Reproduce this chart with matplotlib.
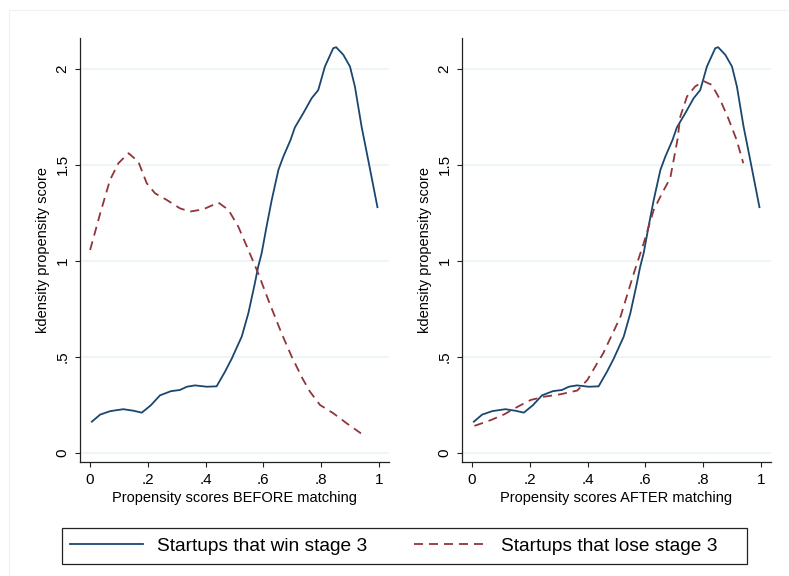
import matplotlib
matplotlib.use("Agg")
import matplotlib.pyplot as plt
from matplotlib.patches import Rectangle
from matplotlib.lines import Line2D

plt.rcParams['font.family'] = ['Liberation Sans', 'DejaVu Sans']

# ----------------------------------------------------------------------
# kernel density of propensity scores
win_x = [0.006, 0.035, 0.070, 0.115, 0.150, 0.179, 0.210, 0.242, 0.280, 0.311,
         0.335, 0.363, 0.404, 0.438, 0.467, 0.490, 0.525, 0.548, 0.570, 0.582,
         0.594, 0.611, 0.629, 0.652, 0.669, 0.694, 0.709, 0.738, 0.767, 0.790,
         0.813, 0.842, 0.852, 0.877, 0.900, 0.917, 0.940, 0.963, 0.995]
win_y = [0.163, 0.200, 0.218, 0.228, 0.220, 0.210, 0.248, 0.300, 0.322, 0.328,
         0.345, 0.352, 0.345, 0.347, 0.423, 0.490, 0.606, 0.728, 0.880, 0.970,
         1.040, 1.179, 1.318, 1.474, 1.543, 1.630, 1.695, 1.769, 1.847, 1.890,
         2.012, 2.108, 2.113, 2.073, 2.012, 1.908, 1.700, 1.526, 1.280]

lose_before_x = [0.000, 0.035, 0.069, 0.098, 0.133, 0.167, 0.196, 0.225, 0.265,
                 0.311, 0.346, 0.392, 0.444, 0.479, 0.513, 0.548, 0.582, 0.617,
                 0.663, 0.698, 0.735, 0.761, 0.796, 0.842, 0.888, 0.938]
lose_before_y = [1.057, 1.248, 1.422, 1.509, 1.561, 1.517, 1.405, 1.352, 1.318,
                 1.274, 1.257, 1.269, 1.304, 1.266, 1.179, 1.057, 0.936, 0.797,
                 0.623, 0.502, 0.389, 0.320, 0.250, 0.207, 0.155, 0.102]

lose_after_x = [0.008, 0.066, 0.111, 0.158, 0.203, 0.249, 0.307, 0.364, 0.399,
                0.433, 0.454, 0.514, 0.560, 0.594, 0.629, 0.658, 0.686, 0.698,
                0.711, 0.721, 0.744, 0.772, 0.801, 0.830, 0.859, 0.887, 0.916,
                0.939]
lose_after_y = [0.141, 0.172, 0.201, 0.241, 0.276, 0.293, 0.306, 0.325, 0.380,
                0.467, 0.519, 0.710, 0.936, 1.092, 1.266, 1.353, 1.431, 1.526,
                1.630, 1.752, 1.856, 1.908, 1.937, 1.917, 1.839, 1.743, 1.630,
                1.509]

x_ticks = [0, 0.2, 0.4, 0.6, 0.8, 1]
x_ticklabels = ["0", ".2", ".4", ".6", ".8", "1"]
y_ticks = [0, 0.5, 1, 1.5, 2]
y_ticklabels = ["0", ".5", "1", "1.5", "2"]

labels = ["Startups that win stage 3", "Startups that lose stage 3"]
x_titles = ["Propensity scores BEFORE matching", "Propensity scores AFTER matching"]
y_title = "kdensity propensity score"
# ----------------------------------------------------------------------

NAVY = "#1a476f"
MAROON = "#90353b"
GRID = "#eaf2f3"
W, H = 789, 576


def style_axis(ax, xtitle):
    ax.set_xlim(-0.035, 1.035)
    ax.set_ylim(-0.047, 2.161)
    ax.set_xticks(x_ticks)
    ax.set_xticklabels(x_ticklabels)
    ax.set_yticks(y_ticks)
    ax.set_yticklabels(y_ticklabels, rotation=90, va="center")
    ax.yaxis.grid(True, color=GRID, lw=1.1)
    ax.set_axisbelow(True)
    for side in ["top", "right"]:
        ax.spines[side].set_visible(False)
    for side in ["left", "bottom"]:
        ax.spines[side].set_color("#222222")
        ax.spines[side].set_linewidth(0.9)
    ax.tick_params(direction="out", length=3.6, width=0.8, color="#222222",
                   labelsize=11, pad=4)
    ax.set_xlabel(xtitle, fontsize=10.5, labelpad=3)
    ax.set_ylabel(y_title, fontsize=10.5, labelpad=4)


fig = plt.figure(figsize=(W / 100, H / 100), dpi=100)
fig.patch.set_facecolor("white")

# faint outer graph-region border (only top/left edges fall inside the image)
fig.add_artist(Rectangle((9 / W, 1 - 600 / H), 800 / W, 590 / H,
                         transform=fig.transFigure, fill=False,
                         edgecolor="#eef1f2", lw=0.8))

ax1 = fig.add_axes([80 / W, 114 / H, 309 / W, 424 / H])
ax2 = fig.add_axes([462 / W, 114 / H, 309 / W, 424 / H])

for ax, lx, ly, title in [(ax1, lose_before_x, lose_before_y, x_titles[0]),
                          (ax2, lose_after_x, lose_after_y, x_titles[1])]:
    ax.plot(win_x, win_y, color=NAVY, lw=1.3, zorder=3)
    ax.plot(lx, ly, color=MAROON, lw=1.3, dashes=(5, 3.3), zorder=3)
    style_axis(ax, title)

# legend
handles = [Line2D([], [], color=NAVY, lw=1.3),
           Line2D([], [], color=MAROON, lw=1.3, dashes=(5, 3.3))]
fig.legend(handles, labels, ncol=2, frameon=False, fontsize=13.8,
           loc="center left", bbox_to_anchor=(70 / W, 1 - 546 / H),
           handlelength=3.81, handletextpad=0.73, columnspacing=2.45,
           borderpad=0.0, borderaxespad=0.0)
fig.add_artist(Rectangle((61.7 / W, 1 - 564 / H), 685 / W, 36 / H,
                         transform=fig.transFigure, fill=False,
                         edgecolor="#222222", lw=0.9))

fig.savefig("out.png", dpi=100)
